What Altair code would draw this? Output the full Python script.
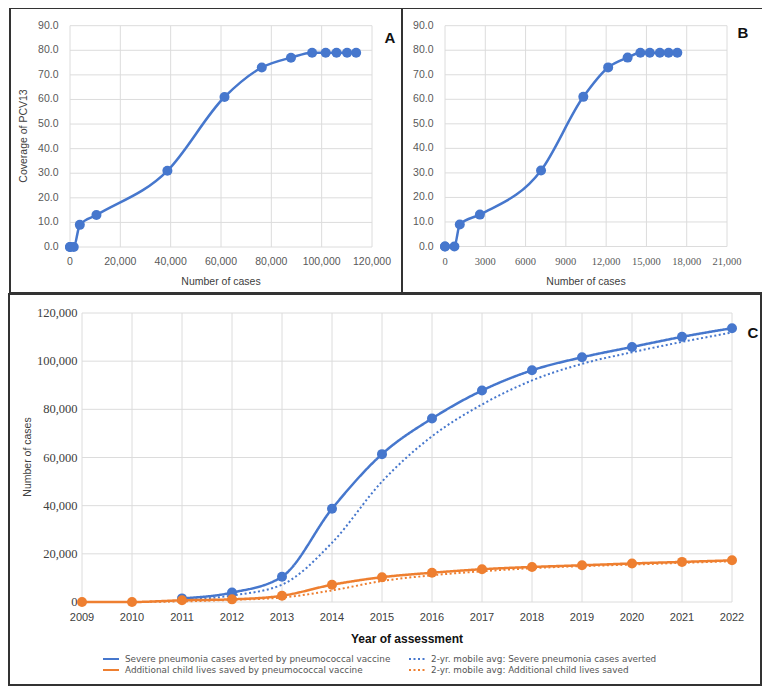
import altair as alt
import pandas as pd

BLUE = "#4677cd"
ORANGE = "#ee7f30"
GRID = "#dcdcdc"
SANS = "Liberation Sans"
SERIF = "Liberation Serif"

# ---------------- data ----------------
years = list(range(2009, 2023))
coverage = [0, 0, 0, 9, 13, 31, 61, 73, 77, 79, 79, 79, 79, 79]
cases_a = [0, 0, 1500, 3900, 10500, 38700, 61400, 76200, 87800, 96200, 101600, 105900, 110100, 113700]
cases_b = [0, 0, 700, 1100, 2600, 7150, 10300, 12150, 13600, 14550, 15250, 16000, 16650, 17300]

severe = [None, None, 1500, 3900, 10500, 38700, 61400, 76200, 87800, 96200, 101600, 105900, 110100, 113700]
severe_avg = [None, None, 750, 2700, 7200, 24600, 50000, 68800, 82000, 92000, 98900, 103700, 108000, 111900]
lives = [0, 0, 700, 1100, 2600, 7150, 10300, 12150, 13600, 14550, 15250, 16000, 16650, 17300]
lives_avg = [None, 0, 250, 900, 1850, 4800, 8700, 11100, 12750, 14050, 14900, 15550, 16250, 16950]

S1 = "Severe pneumonia cases averted by pneumococcal vaccine"
S2 = "2-yr. mobile avg: Severe pneumonia cases averted"
S3 = "Additional child lives saved by pneumococcal vaccine"
S4 = "2-yr. mobile avg: Additional child lives saved"
series_names = [S1, S2, S3, S4]

cov_ticks = list(range(0, 91, 10))
cov_labels = [f"{v:.1f}" for v in cov_ticks]
a_ticks = list(range(0, 120001, 20000))
a_labels = [f"{v:,}" for v in a_ticks]
b_ticks = list(range(0, 21001, 3000))
b_labels = [f"{v:,}" if v >= 10000 else str(v) for v in b_ticks]
c_ticks = list(range(0, 120001, 20000))
c_labels = [f"{v:,}" for v in c_ticks]
year_labels = [str(y) for y in years]

one = alt.Data(values=[{}])


def border(x1, x2, y1, y2):
    return alt.Chart(one).mark_rect(fill="transparent", stroke="#333333", strokeWidth=2).encode(
        x=alt.value(x1), x2=alt.value(x2), y=alt.value(y1), y2=alt.value(y2))


def text_at(t, x, y, size=10.5, weight="normal", color="#404040", angle=0, font=SANS):
    return alt.Chart(one).mark_text(text=t, font=font, fontSize=size, fontWeight=weight,
                                    color=color, align="center", baseline="middle",
                                    angle=angle).encode(x=alt.value(x), y=alt.value(y))


def vgrid(ticks, xs, y1, y2):
    df = pd.DataFrame({"v": ticks})
    return alt.Chart(df).mark_rule(color=GRID, strokeWidth=1).encode(
        x=alt.X("v:Q", scale=xs, axis=None), y=alt.value(y1), y2=alt.value(y2))


def hgrid(ticks, ys, x1, x2):
    df = pd.DataFrame({"v": ticks})
    return alt.Chart(df).mark_rule(color=GRID, strokeWidth=1).encode(
        y=alt.Y("v:Q", scale=ys, axis=None), x=alt.value(x1), x2=alt.value(x2))


def xlabels(ticks, labels, xs, y, size=10.5, color="#595959", font=SANS):
    df = pd.DataFrame({"v": ticks, "lab": labels})
    return alt.Chart(df).mark_text(font=font, fontSize=size, color=color,
                                   align="center", baseline="middle").encode(
        x=alt.X("v:Q", scale=xs, axis=None), y=alt.value(y), text="lab:N")


def ylabels(ticks, labels, ys, x, size=10.5, color="#595959", font=SANS):
    df = pd.DataFrame({"v": ticks, "lab": labels})
    return alt.Chart(df).mark_text(font=font, fontSize=size, color=color,
                                   align="right", baseline="middle").encode(
        y=alt.Y("v:Q", scale=ys, axis=None), x=alt.value(x), text="lab:N")


# ---------------- Panel A ----------------
xsA = alt.Scale(domain=[0, 120000], range=[62, 364], nice=False, zero=False)
ysA = alt.Scale(domain=[0, 90], range=[239, 17.7], nice=False, zero=False)
dfA = pd.DataFrame({"cases": cases_a, "coverage": coverage})
encA = dict(x=alt.X("cases:Q", scale=xsA, axis=None), y=alt.Y("coverage:Q", scale=ysA, axis=None))
layerA = alt.layer(
    border(2, 394, 0, 285),
    vgrid(a_ticks, xsA, 17.7, 239),
    hgrid(cov_ticks, ysA, 62, 364),
    xlabels(a_ticks, a_labels, xsA, 254),
    ylabels(cov_ticks, cov_labels, ysA, 50.5),
    text_at("Number of cases", 213, 274),
    text_at("Coverage of PCV13", 16, 128, angle=270),
    alt.Chart(dfA).mark_line(interpolate="monotone", color=BLUE, strokeWidth=2.5).encode(**encA),
    alt.Chart(dfA).mark_circle(size=100, color=BLUE, opacity=1).encode(**encA),
    text_at("A", 382, 30, size=15, weight="bold", color="#111111"),
)

# ---------------- Panel B ----------------
xsB = alt.Scale(domain=[0, 21000], range=[437, 719], nice=False, zero=False)
ysB = alt.Scale(domain=[0, 90], range=[238.5, 17.7], nice=False, zero=False)
dfB = pd.DataFrame({"cases": cases_b, "coverage": coverage})
encB = dict(x=alt.X("cases:Q", scale=xsB, axis=None), y=alt.Y("coverage:Q", scale=ysB, axis=None))
layerB = alt.layer(
    border(394, 755, 0, 285),
    vgrid(b_ticks, xsB, 17.7, 238.5),
    hgrid(cov_ticks, ysB, 437, 719),
    xlabels(b_ticks, b_labels, xsB, 254, size=10.5, font=SERIF),
    ylabels(cov_ticks, cov_labels, ysB, 425.5),
    text_at("Number of cases", 578, 274),
    alt.Chart(dfB).mark_line(interpolate="monotone", color=BLUE, strokeWidth=2.5).encode(**encB),
    alt.Chart(dfB).mark_circle(size=100, color=BLUE, opacity=1).encode(**encB),
    text_at("B", 735, 25, size=15, weight="bold", color="#111111"),
)

# ---------------- Panel C ----------------
rows = []
for name, vals in zip(series_names, [severe, severe_avg, lives, lives_avg]):
    for yr, v in zip(years, vals):
        if v is not None:
            rows.append({"year": yr, "series": name, "value": v})
dfC = pd.DataFrame(rows)

xsC = alt.Scale(domain=[2009, 2022], range=[74, 724], nice=False, zero=False)
ysC = alt.Scale(domain=[0, 120000], range=[594, 305], nice=False, zero=False)
color_scale = alt.Scale(domain=series_names, range=[BLUE, BLUE, ORANGE, ORANGE])
dash_scale = alt.Scale(domain=series_names, range=[[1, 0], [2, 2.5], [1, 0], [2, 2.5]])


def mk_legend():
    return alt.Legend(
        title=None, orient="none", legendX=97, legendY=645, columns=2, direction="horizontal",
        columnPadding=14, rowPadding=0, symbolType="M-1.6,0L1.6,0", symbolSize=100,
        symbolStrokeWidth=2, labelFont="DejaVu Sans", labelFontSize=8.85,
        labelColor="#555555", labelOffset=8, labelLimit=400,
    )


encC = dict(x=alt.X("year:Q", scale=xsC, axis=None), y=alt.Y("value:Q", scale=ysC, axis=None))
lines = alt.Chart(dfC).mark_line(interpolate="monotone").encode(
    **encC,
    color=alt.Color("series:N", scale=color_scale, legend=mk_legend()),
    strokeDash=alt.StrokeDash("series:N", scale=dash_scale, legend=mk_legend()),
    strokeWidth=alt.condition(alt.FieldOneOfPredicate(field="series", oneOf=[S2, S4]),
                              alt.value(2), alt.value(2.5)),
)
points = alt.Chart(dfC).transform_filter(
    alt.FieldOneOfPredicate(field="series", oneOf=[S1, S3])
).mark_circle(size=100, opacity=1).encode(
    **encC, color=alt.Color("series:N", scale=color_scale, legend=None))

layerC = alt.layer(
    border(1, 753, 286, 677),
    vgrid(years, xsC, 305, 594),
    hgrid(c_ticks, ysC, 74, 724),
    xlabels(years, year_labels, xsC, 610, size=11, color="#404040"),
    ylabels(c_ticks, c_labels, ysC, 69.5, size=12.5, color="#404040", font=SERIF),
    text_at("Number of cases", 20, 449, angle=270),
    text_at("Year of assessment", 399, 631, size=12, weight="bold", color="#111111"),
    lines,
    points,
    text_at("C", 745, 325, size=15, weight="bold", color="#111111"),
)

chart = alt.layer(layerA, layerB, layerC).resolve_scale(
    x="independent", y="independent"
).properties(
    width=754, height=678, padding=0, autosize=alt.AutoSizeParams(type="none")
).configure_view(stroke=None)

chart.save("out.html", embed_options={"renderer": "svg", "actions": False})
